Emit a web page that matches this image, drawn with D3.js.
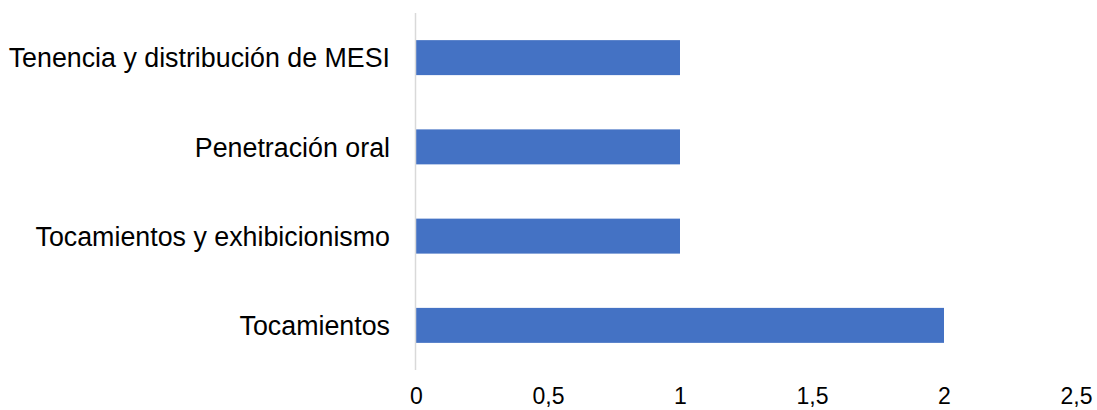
<!DOCTYPE html>
<html>
<head>
<meta charset="utf-8">
<script src="https://cdn.jsdelivr.net/npm/d3@7"></script>
<style>
  html, body { margin: 0; padding: 0; background: #fff; }
  svg text { font-family: "Liberation Sans", Arial, sans-serif; fill: #000; }
</style>
</head>
<body>
<svg id="chart" width="1097" height="410"></svg>
<script>
// Categories, top to bottom
const categories = [
  "Tenencia y distribución de MESI",
  "Penetración oral",
  "Tocamientos y exhibicionismo",
  "Tocamientos"
];
const values = [1, 1, 1, 2];
const tickValues = [0, 0.5, 1, 1.5, 2, 2.5];
const tickLabels = ["0", "0,5", "1", "1,5", "2", "2,5"];

const svg = d3.select("#chart");

const x = d3.scaleLinear().domain([0, 2.5]).range([416, 1076]);
const y = d3.scaleBand()
  .domain(categories)
  .range([13, 370])
  .paddingInner(0.608)
  .paddingOuter(0.304);

// Bars
svg.append("g")
  .selectAll("rect")
  .data(categories)
  .join("rect")
  .attr("x", x(0))
  .attr("y", d => y(d))
  .attr("width", (d, i) => x(values[i]) - x(0))
  .attr("height", y.bandwidth())
  .attr("fill", "#4472C4");

// Vertical category axis line
svg.append("line")
  .attr("x1", 415.5).attr("x2", 415.5)
  .attr("y1", 13).attr("y2", 370)
  .attr("stroke", "#d9d9d9")
  .attr("stroke-width", 1.5);

// Category labels
svg.append("g")
  .selectAll("text")
  .data(categories)
  .join("text")
  .attr("x", 390)
  .attr("y", d => y(d) + y.bandwidth() / 2)
  .attr("dy", "0.36em")
  .attr("text-anchor", "end")
  .style("font-size", "26.8px")
  .text(d => d);

// Value axis tick labels
const xAxis = d3.axisBottom(x)
  .tickValues(tickValues)
  .tickFormat((d, i) => tickLabels[i])
  .tickSize(0)
  .tickPadding(0);

const gx = svg.append("g")
  .attr("transform", "translate(0,404)")
  .call(xAxis);
gx.select(".domain").remove();
gx.selectAll("text")
  .attr("dy", "0")
  .style("font-size", "23px")
  .style("font-family", "'Liberation Sans', Arial, sans-serif")
  .attr("fill", "#000");
</script>
</body>
</html>
